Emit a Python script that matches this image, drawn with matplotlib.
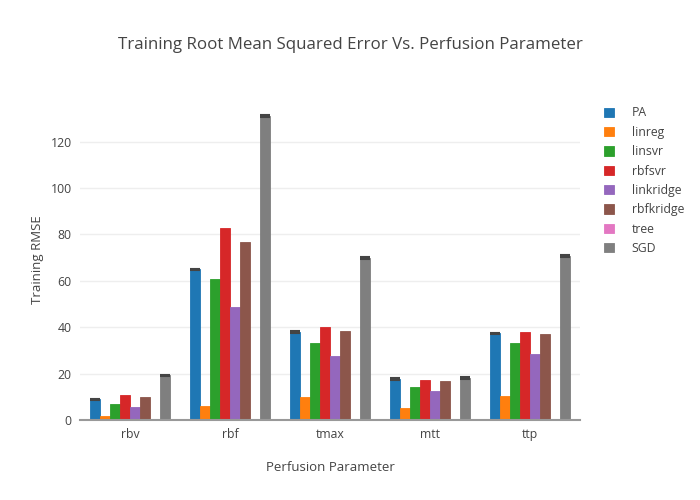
import numpy as np
import matplotlib.pyplot as plt

plt.rcParams['font.family'] = ['Open Sans', 'DejaVu Sans']

params = ['rbv', 'rbf', 'tmax', 'mtt', 'ttp']
models = ['PA', 'linreg', 'linsvr', 'rbfsvr', 'linkridge', 'rbfkridge', 'tree', 'SGD']
colors = ['#1f77b4', '#ff7f0e', '#2ca02c', '#d62728', '#9467bd', '#8c564b', '#e377c2', '#7f7f7f']

# training RMSE per model, in order rbv, rbf, tmax, mtt, ttp
PA = [8.9, 65.0, 37.9, 17.6, 37.4]
linreg = [1.7, 6.0, 9.9, 5.2, 10.4]
linsvr = [6.7, 60.9, 33.2, 14.2, 33.2]
rbfsvr = [10.8, 82.9, 40.1, 17.3, 38.0]
linkridge = [5.6, 48.8, 27.6, 12.5, 28.5]
rbfkridge = [9.9, 76.8, 38.4, 16.8, 37.1]
tree = [0, 0, 0, 0, 0]
SGD = [19.2, 131.1, 69.8, 18.1, 70.7]

PA_err = [0.3, 0.3, 0.3, 0.3, 0.3]
SGD_err = [0.3, 0.3, 0.3, 0.3, 0.3]

values = [PA, linreg, linsvr, rbfsvr, linkridge, rbfkridge, tree, SGD]
errors = {'PA': PA_err, 'SGD': SGD_err}

fig = plt.figure(figsize=(7, 5), dpi=100)
ax = fig.add_axes([80 / 700, 80 / 500, 500 / 700, 320 / 500])

x = np.arange(len(params))
w = 0.1
for i, (name, vals, c) in enumerate(zip(models, values, colors)):
    pos = x - 0.4 + w * (i + 0.5)
    ax.bar(pos, vals, width=w, color=c, edgecolor=c, linewidth=0.6,
           label=name, zorder=2)
    if name in errors:
        ax.errorbar(pos, vals, yerr=errors[name], fmt='none', ecolor='#444444',
                    elinewidth=1, capsize=3.5, capthick=1.5, zorder=3)

ax.set_xlim(-0.5, len(params) - 0.5)
ax.set_ylim(0, 138)
ax.set_yticks(range(0, 140, 20))
ax.set_xticks(x)
ax.set_xticklabels(params)
ax.grid(axis='y', color='#eeeeee', linewidth=1, zorder=0)
ax.set_axisbelow(True)
for s in ['top', 'right', 'left']:
    ax.spines[s].set_visible(False)
ax.spines['bottom'].set_color('#999999')
ax.spines['bottom'].set_linewidth(1.5)
ax.tick_params(axis='both', length=0, colors='#444444', labelsize=8.8, pad=6)

ax.set_xlabel('Perfusion Parameter', fontsize=9.5, color='#444444', labelpad=14)
ax.set_ylabel('Training RMSE', fontsize=9.5, color='#444444', labelpad=5)
fig.suptitle('Training Root Mean Squared Error Vs. Perfusion Parameter',
             x=0.5, y=1 - 45 / 500, va='center', fontsize=12.2, color='#444444')

ax.legend(loc='upper left', bbox_to_anchor=(1.038, 0.995), frameon=False,
          fontsize=8.8, labelcolor='#444444', handlelength=0.8, handleheight=0.8,
          handletextpad=1.46, labelspacing=0.52, borderaxespad=0)

fig.savefig('out.png', dpi=100)
